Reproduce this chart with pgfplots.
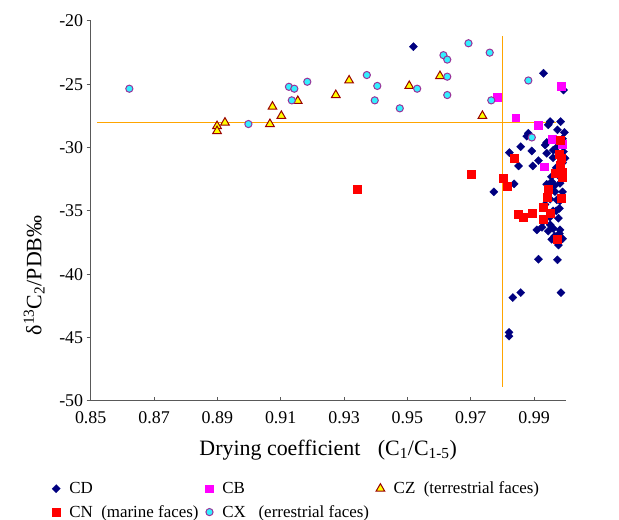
\documentclass[border=0pt]{standalone}
\usepackage{fontspec}
\setmainfont{Liberation Serif}
\usepackage{pgfplots}
\pgfplotsset{compat=1.18}
\definecolor{cdblue}{HTML}{000080}
\definecolor{cbmag}{HTML}{FF00FF}
\definecolor{cnred}{HTML}{FF0000}
\definecolor{cxcyan}{HTML}{33F0FF}
\definecolor{cxedge}{HTML}{993399}
\definecolor{czfill}{HTML}{FFFF00}
\definecolor{czedge}{HTML}{990000}
\definecolor{guide}{HTML}{FFA500}
\begin{document}
\begin{tikzpicture}
\useasboundingbox (-90.7bp,-119.3bp) rectangle (528.3bp,400.7bp);
\begin{axis}[
  at={(0,0)}, anchor=south west,
  scale only axis, width=475bp, height=379.7bp,
  xmin=0.85, xmax=1.0, ymin=-50, ymax=-20,
  axis x line*=bottom, axis y line*=left,
  axis line style={black!65, line width=1.2bp},
  xtick={0.85,0.87,0.89,0.91,0.93,0.95,0.97,0.99},
  ytick={-50,-45,-40,-35,-30,-25,-20},
  xtick align=inside, ytick align=outside,
  major tick length=4bp,
  tick style={black!65, line width=1bp},
  /pgf/number format/assume math mode=true,
  tick label style={font=\fontsize{18}{20}\selectfont},
  xticklabel style={yshift=-7bp, /pgf/number format/.cd, fixed, fixed zerofill, precision=2},
  xlabel={Drying coefficient\hspace{0.8em}(C\textsubscript{1}/C\textsubscript{1-5})},
  xlabel style={at={(axis description cs:0.5,-0.13)}, anchor=center, font=\fontsize{22}{25}\selectfont},
  ylabel={δ\textsuperscript{13}C\textsubscript{2}/PDB‰},
  ylabel style={at={(axis description cs:-0.119,0.33)}, anchor=center, font=\fontsize{22}{25}\selectfont},
  legend columns=3,
  legend cell align=left,
  legend style={at={(axis description cs:-0.088,-0.203)}, anchor=north west, draw=none, fill=none,
    font=\fontsize{17}{20}\selectfont, row sep=6bp,
    /tikz/every odd column/.append style={column sep=7bp},
    /tikz/every even column/.append style={column sep=5bp}},
]
\addplot[guide, line width=1bp, forget plot] coordinates {(0.852,-28) (0.997,-28)};
\addplot[guide, line width=1bp, forget plot] coordinates {(0.98,-21.2) (0.98,-48.9)};
% CD
\addplot[only marks, mark=square*, mark size=2.9bp, mark options={rotate=45, fill=cdblue, draw=cdblue, line width=0.3bp}] coordinates {
(0.9519,-22.03) (0.9930,-24.13) (0.9993,-25.45) (0.9951,-27.95) (0.9945,-28.2)
(0.9984,-27.95) (0.9974,-28.6) (0.9996,-28.8) (0.9882,-28.87) (0.9877,-29.1)
(0.9858,-29.93) (0.9822,-30.4) (0.9893,-30.27) (0.9851,-31.45) (0.9896,-31.45)
(0.9914,-31.03) (0.9935,-29.8) (0.9940,-30.45) (0.9961,-30.2) (0.9993,-30.32)
(0.9998,-30.85) (0.9837,-32.87) (0.9956,-32.7) (0.9982,-32.82) (0.9966,-33.48)
(0.9951,-34.08) (0.9972,-34.13) (0.9982,-34.2) (0.9909,-36.5) (0.9951,-36.1)
(0.9977,-35.58) (0.9982,-36.5) (0.9961,-36.4) (0.9977,-37.7) (0.9956,-37.25)
(0.9914,-38.82) (0.9974,-38.87) (0.9858,-41.46) (0.9833,-41.85) (0.9985,-41.46)
(0.9821,-44.6) (0.9821,-44.9) (0.9773,-33.5)
(0.9940,-29.6) (0.9960,-30.8) (0.9970,-31.6) (0.9955,-32.3) (0.9985,-32.4)
(0.9940,-32.9) (0.9965,-33.0) (0.9990,-33.5) (0.9935,-34.5) (0.9980,-34.8)
(0.9960,-35.0) (0.9930,-35.8) (0.9950,-35.5) (0.9970,-35.0) (0.9980,-36.8)
(0.9925,-36.3) (0.9945,-36.6) (0.9990,-31.2) (0.9990,-29.3) (0.9975,-29.9)
(0.9990,-37.2) (0.9965,-37.0)
};
\addlegendentry{CD}
% CB
\addplot[only marks, mark=square*, mark size=3.9bp, mark options={fill=cbmag, draw=cbmag, line width=0.2bp}] coordinates {
(0.9985,-25.13) (0.9784,-26.0) (0.9842,-27.64) (0.9914,-28.2) (0.9956,-29.35)
(0.9988,-29.7) (0.9932,-31.5)
};
\addlegendentry{CB}
% CZ
\addplot[only marks, mark=triangle*, mark size=5bp, mark options={fill=czfill, draw=czedge, line width=1bp}] coordinates {
(0.8899,-28.3) (0.8899,-28.7) (0.8924,-28.03) (0.9066,-28.14) (0.9074,-26.77)
(0.9102,-27.5) (0.9154,-26.32) (0.9274,-25.85) (0.9316,-24.7) (0.9506,-25.13)
(0.9603,-24.35) (0.9737,-27.5)
};
\addlegendentry{CZ\ \ (terrestrial faces)}
% CN
\addplot[only marks, mark=square*, mark size=4bp, mark options={fill=cnred, draw=cnred, line width=0.2bp}] coordinates {
(0.9341,-33.27) (0.9701,-32.1) (0.9801,-32.43) (0.9814,-33.03) (0.9837,-30.85)
(0.9981,-29.4) (0.9985,-30.85) (0.9982,-31.37) (0.9966,-32.03) (0.9988,-31.9)
(0.9943,-33.3) (0.9940,-33.93) (0.9984,-34.0) (0.9851,-35.25) (0.9866,-35.46)
(0.9893,-35.14) (0.9928,-34.72) (0.9951,-35.14) (0.9928,-35.67) (0.9972,-37.25)
(0.9978,-30.5) (0.9990,-32.3)
};
\addlegendentry{CN\ \ (marine faces)}
% CX
\addplot[only marks, mark=*, mark size=3.6bp, mark options={fill=cxcyan, draw=cxedge, line width=1bp}] coordinates {
(0.8622,-25.35) (0.8998,-28.14) (0.9126,-25.2) (0.9143,-25.35) (0.9135,-26.27)
(0.9184,-24.8) (0.9372,-24.27) (0.9405,-25.13) (0.9397,-26.27) (0.9476,-26.9)
(0.9531,-25.35) (0.9614,-22.7) (0.9626,-23.05) (0.9626,-24.4) (0.9626,-25.85)
(0.9693,-21.76) (0.9760,-22.5) (0.9765,-26.27) (0.9882,-24.7) (0.9893,-29.2)
};
\addlegendentry{CX\ \ \ (errestrial faces)}
\end{axis}
\end{tikzpicture}
\end{document}
